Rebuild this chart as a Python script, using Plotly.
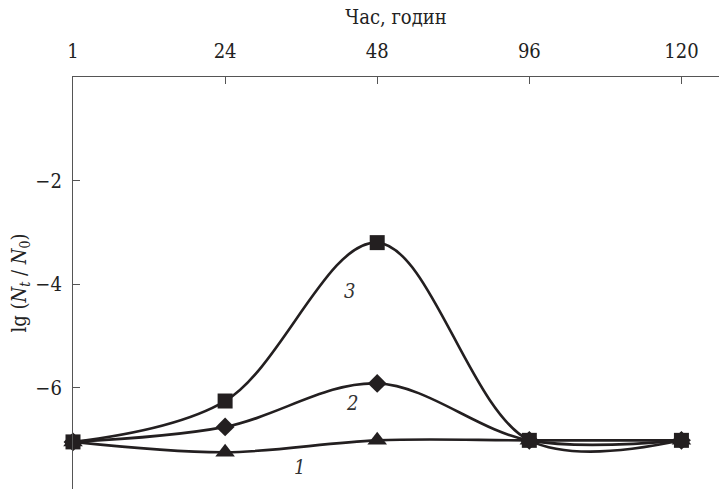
import plotly.graph_objects as go

hours = ["1", "24", "48", "96", "120"]
series1 = [-7.05, -7.25, -7.02, -7.02, -7.02]   # triangles, curve 1
series2 = [-7.05, -6.76, -5.92, -7.02, -7.02]   # diamonds, curve 2
series3 = [-7.05, -6.26, -3.20, -7.02, -7.02]   # squares, curve 3
y_ticks = [-2, -4, -6]
curve_labels = ["1", "2", "3"]
label_pos = [(1.486, -7.54), (1.834, -6.30), (1.815, -4.135)]

xpos = list(range(len(hours)))
ink = "#231f20"
FONT = "DejaVu Serif Condensed, DejaVu Serif, serif"

fig = go.Figure()
for vals, sym, size in [(series1, "triangle-up", 17), (series2, "diamond", 14.5), (series3, "square", 15)]:
    fig.add_trace(go.Scatter(
        x=xpos, y=vals, mode="lines+markers",
        line=dict(shape="spline", smoothing=1.0, color=ink, width=2.6),
        marker=dict(symbol=sym, size=size, color=ink),
        cliponaxis=False, showlegend=False, hoverinfo="skip"))

for txt, (lx, ly) in zip(curve_labels, label_pos):
    fig.add_annotation(x=lx, y=ly, text="<i>%s</i>" % txt, showarrow=False,
                       font=dict(family=FONT, size=20, color="#333"))

fig.update_layout(
    width=719, height=489,
    margin=dict(l=73, r=0, t=77, b=0),
    paper_bgcolor="white", plot_bgcolor="white",
    font=dict(family=FONT, size=20, color="#222"),
    xaxis=dict(side="top", range=[0, 4.247], tickvals=xpos, ticktext=hours,
               showline=True, linecolor="#555", linewidth=1.3,
               ticks="inside", ticklen=7, tickcolor="#555", tickwidth=1.3,
               ticklabelstandoff=10, showgrid=False, zeroline=False,
               title=dict(text="Час, годин", standoff=8, font=dict(size=20))),
    yaxis=dict(range=[-7.96, 0], tickvals=y_ticks,
               ticktext=["\u22122", "\u22124", "\u22126"],
               showline=True, linecolor="#555", linewidth=1.3,
               ticks="inside", ticklen=7, tickcolor="#555", tickwidth=1.3,
               ticklabelstandoff=6, showgrid=False, zeroline=False,
               title=dict(text="lg (<i>N</i><sub><i>t</i></sub> / <i>N</i><sub>0</sub>)",
                          standoff=3, font=dict(size=20))),
)

fig.write_html("out.html")
